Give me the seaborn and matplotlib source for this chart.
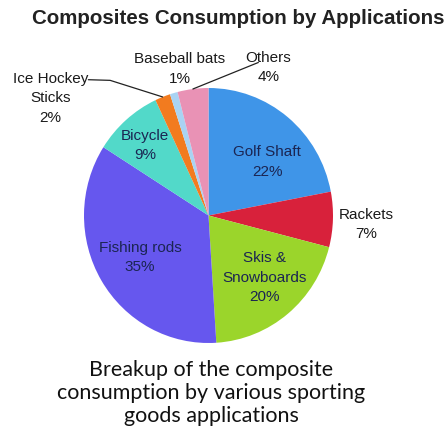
import numpy as np
import matplotlib
matplotlib.use("Agg")
import matplotlib.pyplot as plt
import seaborn as sns

sns.set_theme(style="white")
plt.rcParams["font.family"] = ["Liberation Sans", "DejaVu Sans"]

# ---- data ----
categories = ["Golf Shaft", "Rackets", "Skis &\nSnowboards", "Fishing rods",
              "Bicycle", "Ice Hockey\nSticks", "Baseball bats", "Others"]
shares = [22, 7, 20, 35, 9, 2, 1, 4]
pct_labels = ["22%", "7%", "20%", "35%", "9%", "2%", "1%", "4%"]
colors = ["#3f95e8", "#d8213b", "#9bd52b", "#6657ee",
          "#52d9c9", "#f27b1f", "#a9d3f3", "#e992b5"]

title = "Composites Consumption by Applications"
caption = "Breakup of the composite\nconsumption by various sporting\ngoods applications"

# ---- layout (label positions in pie-radius units) ----
label_pos = [(0.47, 0.42), (1.27, -0.07), (0.45, -0.49), (-0.55, -0.33),
             (-0.51, 0.55), (-1.27, 0.92), (-0.23, 1.15), (0.48, 1.16)]
inside = [True, False, True, True, True, False, False, False]

W, H = 446, 429
fig = plt.figure(figsize=(W / 100, H / 100), dpi=100)
fig.patch.set_facecolor("white")

cx, cy, rx, ry = 208.5, 215.5, 124.5, 127.5
ax = fig.add_axes([(cx - rx) / W, (H - cy - ry) / H, 2 * rx / W, 2 * ry / H])
wedges, _ = ax.pie(shares, colors=colors, startangle=90, counterclock=False,
                   wedgeprops=dict(linewidth=0))
ax.set_aspect("auto")
ax.set_xlim(-1, 1)
ax.set_ylim(-1, 1)
ax.axis("off")

for name, pct, (lx, ly), ins in zip(categories, pct_labels, label_pos, inside):
    ax.text(lx, ly, f"{name}\n{pct}", ha="center", va="center",
            fontsize=11, color="#1b2552" if ins else "#1a1a1a",
            linespacing=1.5, clip_on=False)

def mid(w):
    a = np.deg2rad((w.theta1 + w.theta2) / 2)
    return np.cos(a), np.sin(a)

# leader lines
ix, iy = mid(wedges[5])
ax.plot([-0.965, -0.79, ix], [1.065, 1.06, iy], color="#222222", lw=0.9,
        clip_on=False)
ox, oy = mid(wedges[7])
ax.plot([ox, 0.40], [oy, 1.20], color="#222222", lw=0.9, clip_on=False)

fig.text(238 / W, 1 - 18 / H, title, ha="center", va="center",
         fontsize=14.8, fontweight="bold", color="#222222")
fig.text(211 / W, 1 - 393 / H, caption, ha="center", va="center",
         fontsize=15.5, family=["Lato", "DejaVu Sans"], color="#111111",
         linespacing=1.2)

fig.savefig("out.png", dpi=100, facecolor="white")
